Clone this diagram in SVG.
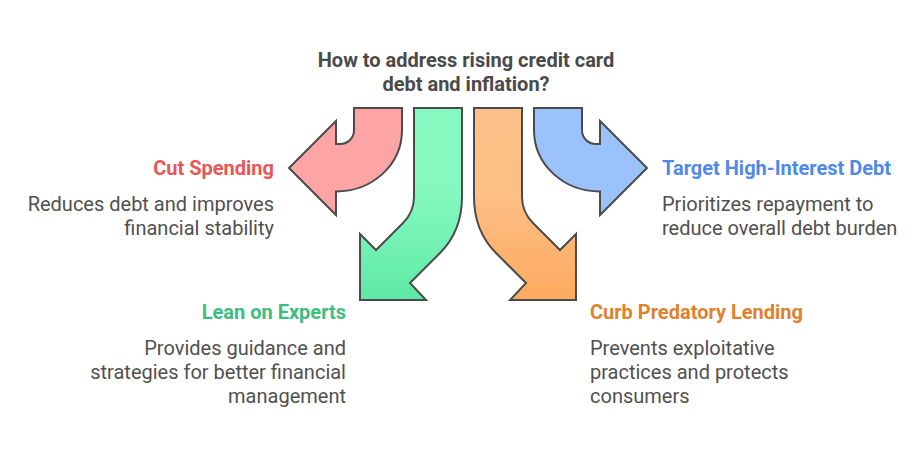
<svg xmlns="http://www.w3.org/2000/svg" width="924" height="456" viewBox="0 0 924 456">
<style>
text{font-family:"Roboto","Liberation Sans",sans-serif;font-size:20px;fill:#505050}
.t{font-weight:700}
.h{font-weight:700;fill:#4a4a4a}
.e{text-anchor:end}
.a{stroke:#4b4b4b;stroke-width:2;stroke-linejoin:miter}
</style>
<defs>
<linearGradient id="g" x1="0" y1="0" x2="0" y2="1"><stop offset="0" stop-color="#86f9c1"/><stop offset="0.45" stop-color="#84f8bf"/><stop offset="1" stop-color="#5ee9a5"/></linearGradient>
<linearGradient id="o" x1="0" y1="0" x2="0" y2="1"><stop offset="0" stop-color="#fdc088"/><stop offset="0.45" stop-color="#fdbf85"/><stop offset="1" stop-color="#fdaa5f"/></linearGradient>
</defs>
<g id="title" text-anchor="middle"><text class="h" x="466" y="67">How to address rising credit card</text><text class="h" x="466" y="91">debt and inflation?</text></g>
<g id="connectors">
<path class="a" fill="#fda5a5" d="M354 108H402V130C402 165 372 191.500 336 191.500V215L289 168L336 121V144H340C348 144 354 138 354 130Z"/>
<path class="a" fill="url(#g)" d="M414 108H462V197C462 220 455 238 440 253L410 283L426 300H360V234L376 250L403 223C410 216 414 207 414 197Z"/>
<path class="a" fill="url(#o)" d="M522 108H474V197C474 220 481 238 496 253L526 283L510 300H576V234L560 250L533 223C526 216 522 207 522 197Z"/>
<path class="a" fill="#9bc2fd" d="M582 108H534V130C534 165 564 191.500 600 191.500V215L647 168L600 121V144H596C588 144 582 138 582 130Z"/>
</g>
<g id="cut-spending"><text class="t e" x="274" y="175" style="fill:#e85757">Cut Spending</text><text class="e" x="274" y="211">Reduces debt and improves</text><text class="e" x="274" y="235">financial stability</text></g>
<g id="target-debt"><text class="t" x="662" y="175" style="fill:#4f8ae8">Target High-Interest Debt</text><text x="662" y="211">Prioritizes repayment to</text><text x="662" y="235">reduce overall debt burden</text></g>
<g id="lean-on-experts"><text class="t e" x="346" y="319" style="fill:#3dbd82">Lean on Experts</text><text class="e" x="346" y="355">Provides guidance and</text><text class="e" x="346" y="379">strategies for better financial</text><text class="e" x="346" y="403">management</text></g>
<g id="curb-lending"><text class="t" x="590" y="319" style="fill:#e0812f">Curb Predatory Lending</text><text x="590" y="355">Prevents exploitative</text><text x="590" y="379">practices and protects</text><text x="590" y="403">consumers</text></g>
</svg>
